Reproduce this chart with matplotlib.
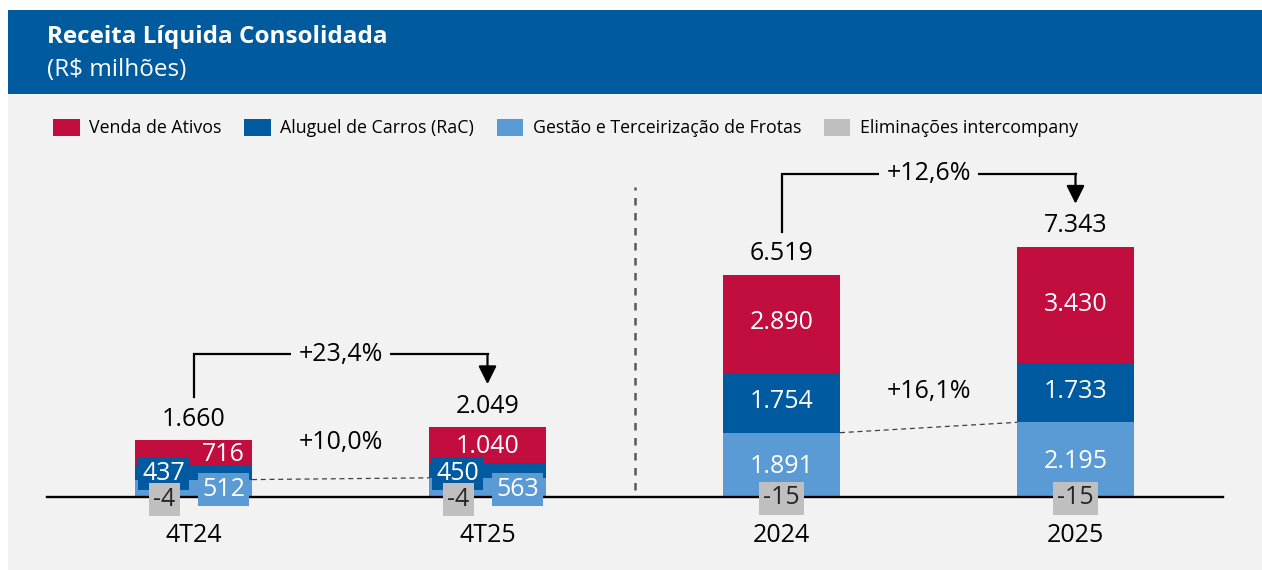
import matplotlib.pyplot as plt
from matplotlib.patches import Rectangle

plt.rcParams['font.family'] = ['Open Sans', 'DejaVu Sans']

categories = ['4T24', '4T25', '2024', '2025']
venda = [716, 1040, 2890, 3430]
aluguel = [437, 450, 1754, 1733]
gestao = [512, 563, 1891, 2195]
elim = [-4, -4, -15, -15]
totals = [1660, 2049, 6519, 7343]
growth_total = ['+23,4%', '+12,6%']
growth_gestao = ['+10,0%', '+16,1%']
legend_labels = ['Venda de Ativos', 'Aluguel de Carros (RaC)',
                 'Gestão e Terceirização de Frotas', 'Eliminações intercompany']

RED = '#C20E3F'
DBLUE = '#005A9F'
LBLUE = '#5B9BD5'
GRAY = '#BFBFBF'
BG = '#F2F2F2'

W, H = 1262, 570
fig = plt.figure(figsize=(W / 100, H / 100), dpi=100)
fig.patch.set_facecolor('white')


def fx(px):
    return px / W


def fy(py):
    return 1 - py / H


# background + header band
fig.patches.append(Rectangle((fx(8), 0), 1 - fx(8), fy(94), transform=fig.transFigure,
                             facecolor=BG, edgecolor='none', zorder=-2))
fig.patches.append(Rectangle((fx(8), fy(94)), 1 - fx(8), fy(10) - fy(94), transform=fig.transFigure,
                             facecolor='#005A9E', edgecolor='none', zorder=-2))
fig.text(fx(47), fy(37), 'Receita Líquida Consolidada', color='white', fontsize=17.5,
         fontweight='bold', va='center', ha='left')
fig.text(fx(47), fy(70), '(R$ milhões)', color='white', fontsize=17.5, va='center', ha='left')

# axes covering whole figure, data scale: 294 px per category, k units per px
k = 29.4
ax = fig.add_axes([0, 0, 1, 1])
ax.set_facecolor('none')
ax.set_xlim(-193.5 / 294, (W - 193.5) / 294)
ax.set_ylim(-(H - 497) * k, 497 * k)
ax.axis('off')

x = list(range(len(categories)))
bw = 0.398
b1 = ax.bar(x, gestao, bw, color=LBLUE, zorder=2)
b2 = ax.bar(x, aluguel, bw, bottom=gestao, color=DBLUE, zorder=2)
bot3 = [g + a for g, a in zip(gestao, aluguel)]
b3 = ax.bar(x, venda, bw, bottom=bot3, color=RED, zorder=2)
b4 = ax.bar(x, elim, bw, color=GRAY, zorder=2)
tops = [b + v for b, v in zip(bot3, venda)]

ax.plot([-0.5, 3.5], [0, 0], color='black', lw=1.7, zorder=3)

fs = 18
pt = 0.72  # points per pixel


def fmt(v):
    return f'{v:,}'.replace(',', '.')


def lab(txt, xi, yv, dx=0, dy=0, color='white', box=None):
    kw = {}
    if box:
        kw['bbox'] = dict(boxstyle='square,pad=0.16', facecolor=box, edgecolor='none')
    ax.annotate(txt, (xi, yv), xytext=(dx * pt, dy * pt), textcoords='offset points',
                ha='center', va='center', fontsize=fs, color=color, zorder=5, **kw)


venda_dx = [30, 0, 0, 0]
for i in x:
    if tops[i] < 3000:
        # small bars: labels offset sideways with coloured boxes
        lab(fmt(venda[i]), i, bot3[i] + venda[i] / 2, dx=venda_dx[i], dy=-2)
        lab(fmt(aluguel[i]), i, 0, dx=-30, dy=24, box=DBLUE)
        lab(fmt(gestao[i]), i, 0, dx=30, dy=8, box=LBLUE)
        lab(fmt(elim[i]), i, 0, dx=-29, dy=-2, color='#262626', box=GRAY)
    else:
        lab(fmt(venda[i]), i, bot3[i] + venda[i] / 2, dy=1)
        lab(fmt(aluguel[i]), i, gestao[i] + aluguel[i] / 2, dy=1)
        lab(fmt(gestao[i]), i, gestao[i] / 2, dy=-2)
        lab(fmt(elim[i]), i, 0, dy=-1, color='#262626', box=GRAY)
    lab(fmt(totals[i]), i, tops[i], dy=21, color='black')
    lab(categories[i], i, 0, dy=-38, color='black')

# dashed connectors between gestao tops + growth labels
for n, (i, j) in enumerate([(0, 1), (2, 3)]):
    ax.plot([i + bw / 2, j - bw / 2], [gestao[i], gestao[j]], color='#404040',
            lw=0.9, ls=(0, (4, 3)), zorder=3)
    lab(growth_gestao[n], (i + j) / 2, (gestao[i] + gestao[j]) / 2, dy=36, color='black')

    # bracket arrow for total growth
    y0 = tops[i] + 43 * k
    y1 = tops[j] + 43 * k
    yb = max(tops[i], tops[j]) + 73 * k
    ax.plot([i, i, j], [y0, yb, yb], color='black', lw=1.6, zorder=3,
            solid_joinstyle='miter')
    ax.annotate('', xy=(j, y1), xytext=(j, yb),
                arrowprops=dict(arrowstyle='-|>,head_length=1.1,head_width=0.55',
                                mutation_scale=10, color='black', lw=1.6,
                                shrinkA=0, shrinkB=0), zorder=3)
    ax.annotate(growth_total[n], ((i + j) / 2, yb), ha='center', va='center',
                fontsize=fs, color='black', zorder=5,
                bbox=dict(boxstyle='square,pad=0.3', facecolor=BG, edgecolor='none'))

# separator between quarters and years
ax.plot([1.5, 1.5], [7 * k, 310 * k], color='#595959', lw=1.8, ls=(0, (3, 3)), zorder=1)

fig.legend([b3, b2, b1, b4], legend_labels, loc='center left',
           bbox_to_anchor=(fx(53), fy(128)), ncol=4, frameon=False, fontsize=12.8,
           borderpad=0, borderaxespad=0,
           handlelength=1.5, handleheight=1.15, handletextpad=0.55, columnspacing=1.25)

fig.savefig('out.png', dpi=100, facecolor=fig.get_facecolor())
